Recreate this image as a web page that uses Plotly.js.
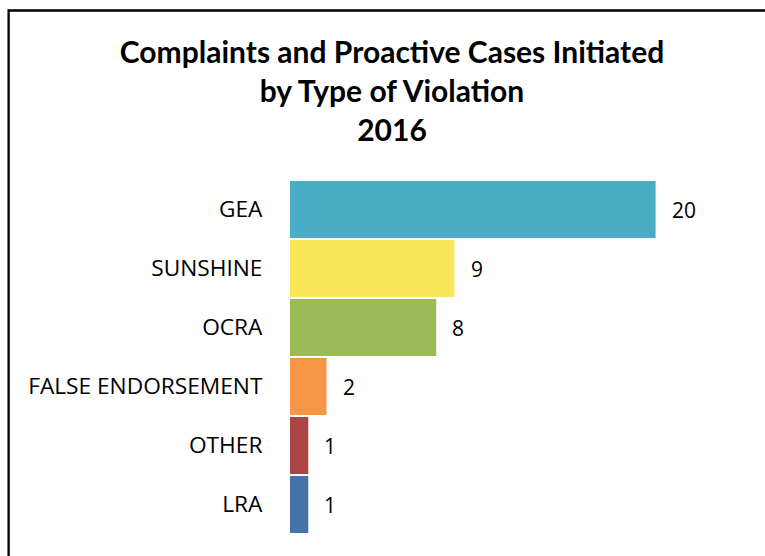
<!DOCTYPE html>
<html>
<head>
<meta charset="utf-8">
<script src="https://cdn.plot.ly/plotly-3.0.1.min.js"></script>
<style>html,body{margin:0;padding:0;background:#fff;}#chart{width:765px;height:556px;}</style>
</head>
<body>
<div id="chart"></div>
<script>
const categories = ["GEA", "SUNSHINE", "OCRA", "FALSE ENDORSEMENT", "OTHER", "LRA"];
const values = [20, 9, 8, 2, 1, 1];
const barColors = ["#4BACC6", "#F9E658", "#9BBB59", "#F79646", "#AA4644", "#4572A7"];
const titleLines = ["Complaints and Proactive Cases Initiated", "by Type of Violation", "2016"];

const TFONT = "Lato, 'Open Sans', sans-serif";
const FONT = "'Open Sans', Lato, sans-serif";

const trace = {
  type: "bar",
  orientation: "h",
  x: values,
  y: categories,
  marker: {color: barColors, line: {width: 0}},
  hoverinfo: "x+y"
};

const annotations = values.map((v, i) => ({
  x: v, y: categories[i], xref: "x", yref: "y",
  text: String(v), showarrow: false, xanchor: "left", yanchor: "middle",
  xshift: 14, font: {family: FONT, size: 21, color: "#000"}
}));

const layout = {
  width: 765, height: 556,
  margin: {l: 290, r: 17.5, t: 180, b: 22},
  paper_bgcolor: "#fff", plot_bgcolor: "#fff",
  showlegend: false,
  bargap: 0.03,
  title: {
    text: "<b>" + titleLines.join("<br>") + "</b>",
    font: {family: TFONT, size: 30, color: "#000"},
    xref: "container", x: 392 / 765, xanchor: "center",
    yref: "container", y: 1 - 63 / 556, yanchor: "top"
  },
  xaxis: {range: [0, 25], visible: false, fixedrange: true},
  yaxis: {
    autorange: "reversed", type: "category",
    showline: false, showgrid: false, zeroline: false,
    ticks: "outside", ticklen: 22, tickcolor: "rgba(0,0,0,0)",
    tickfont: {family: FONT, size: 22.7, color: "#000"}
  },
  annotations: annotations,
  shapes: [{
    type: "rect", xref: "paper", yref: "paper",
    x0: (8.3 - 290) / 457.5, x1: 1.2,
    y0: -0.2, y1: (534 - 10.5) / 354,
    line: {color: "#000", width: 2.3}, fillcolor: "rgba(0,0,0,0)", layer: "below"
  }]
};

Plotly.newPlot("chart", [trace], layout, {displayModeBar: false, staticPlot: true});
</script>
</body>
</html>
